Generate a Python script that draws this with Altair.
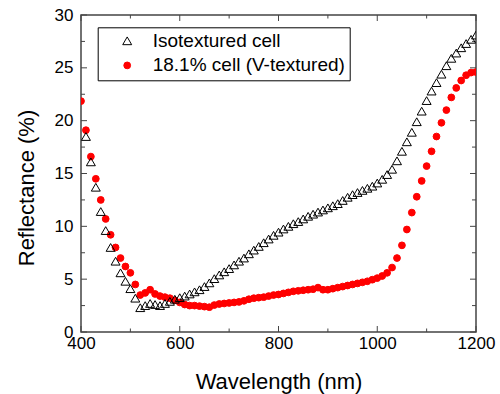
import altair as alt
import pandas as pd

FONT = "Liberation Sans"
AX = "#444444"

series_names = ["Isotextured cell", "18.1% cell (V-textured)"]

# 18.1% cell (V-textured): 400..1200 nm, every 10 nm
v_start = 400
v_textured = [
    21.85, 19.1, 16.6, 14.5, 12.5, 10.7, 9.2, 8.0, 7.0, 6.2,
    5.6, 4.5, 3.5, 3.7, 4.0, 3.6, 3.4, 3.3, 3.2, 3.0,
    2.8, 2.6, 2.5, 2.5, 2.45, 2.4, 2.35, 2.55, 2.65, 2.7,
    2.75, 2.8, 2.85, 2.95, 3.1, 3.2, 3.25, 3.3, 3.4, 3.5,
    3.55, 3.65, 3.75, 3.85, 3.9, 3.95, 4.0, 4.05, 4.2, 4.0,
    4.0, 4.1, 4.2, 4.3, 4.4, 4.5, 4.6, 4.7, 4.8, 4.95,
    5.1, 5.3, 5.6, 6.1, 7.0, 8.2, 9.7, 11.3, 12.8, 14.3,
    15.7, 17.1, 18.5, 19.8, 21.0, 22.2, 23.1, 23.8, 24.3, 24.55,
    24.6,
]

# Isotextured cell: 410..1200 nm, every 10 nm
iso_start = 410
isotextured = [
    18.5, 16.1, 13.7, 11.4, 9.6, 8.0, 6.7, 5.6, 4.8, 4.1,
    3.2, 2.3, 2.5, 2.7, 2.6, 2.5, 2.7, 2.9, 3.1, 3.25,
    3.4, 3.6, 3.8, 4.0, 4.3, 4.65, 5.05, 5.4, 5.7, 6.0,
    6.35, 6.7, 7.0, 7.4, 7.75, 8.1, 8.45, 8.8, 9.15, 9.45,
    9.75, 10.0, 10.25, 10.45, 10.7, 10.95, 11.15, 11.35, 11.55, 11.75,
    11.95, 12.15, 12.45, 12.75, 13.0, 13.2, 13.4, 13.6, 13.8, 14.1,
    14.45, 14.9, 15.4, 16.2, 17.1, 18.0, 18.9, 19.9, 20.9, 21.9,
    22.8, 23.6, 24.4, 25.2, 25.9, 26.4, 26.9, 27.3, 27.7, 28.1,
]

x_major = [400, 600, 800, 1000, 1200]
x_minor = [500, 700, 900, 1100]
y_major = [0, 5, 10, 15, 20, 25, 30]
y_minor = [2.5, 7.5, 12.5, 17.5, 22.5, 27.5]

wl_v = [v_start + 10 * i for i in range(len(v_textured))]
wl_iso = [iso_start + 10 * i for i in range(len(isotextured))]

df = pd.DataFrame({
    "wl": wl_v + wl_iso,
    "R": v_textured + isotextured,
    "series": [series_names[1]] * len(v_textured) + [series_names[0]] * len(isotextured),
})

W, H = 395, 317
xs = alt.Scale(domain=[400, 1200], nice=False, zero=False)
ys = alt.Scale(domain=[0, 30], nice=False, zero=False)

xaxis = alt.Axis(
    values=x_major, format="d", title="Wavelength (nm)", ticks=False, tickSize=0, domain=False, grid=False,
    labelFont=FONT, labelFontSize=17, labelColor="black", labelPadding=3,
    labelFlush=False, labelOverlap=False,
    titleFont=FONT, titleFontSize=22, titleFontWeight="normal", titleColor="black",
    titleY=56, titleBaseline="alphabetic")
yaxis = alt.Axis(
    values=y_major, format="d", title="Reflectance (%)", ticks=False, tickSize=0, domain=False, grid=False,
    labelFont=FONT, labelFontSize=17, labelColor="black", labelPadding=8,
    labelFlush=False, labelOverlap=False, labelBaseline="middle",
    titleFont=FONT, titleFontSize=22, titleFontWeight="normal", titleColor="black",
    titleX=-48, titleY=172.5, titleBaseline="alphabetic", titleAlign="center")

leg = alt.Legend(
    title=None, orient="none", legendX=16.7, legendY=12.3,
    padding=4, strokeColor="black", fillColor="white",
    labelFontSize=19, labelFont=FONT, labelColor="black", labelLimit=0,
    symbolOffset=16, labelOffset=16, rowPadding=4.6,
    symbolStrokeWidth=1,
)

points = alt.Chart(df).mark_point(opacity=1, strokeWidth=1, clip=True).encode(
    x=alt.X("wl:Q", scale=xs, axis=xaxis),
    y=alt.Y("R:Q", scale=ys, axis=yaxis),
    shape=alt.Shape("series:N", scale=alt.Scale(domain=series_names, range=["triangle-up", "circle"]), legend=leg),
    stroke=alt.Stroke("series:N", scale=alt.Scale(domain=series_names, range=["black", "#ff0000"]), legend=leg),
    fill=alt.Fill("series:N", scale=alt.Scale(domain=series_names, range=["transparent", "#ff0000"]), legend=leg),
    size=alt.Size("series:N", scale=alt.Scale(domain=series_names, range=[80, 46]), legend=leg),
)

def xticks(vals, length, top):
    d = pd.DataFrame({"wl": vals})
    if top:
        yy, yy2 = alt.value(0), alt.value(length)
    else:
        yy, yy2 = alt.value(H), alt.value(H - length)
    return alt.Chart(d).mark_rule(color=AX, strokeWidth=1).encode(
        x=alt.X("wl:Q", scale=xs, axis=xaxis), y=yy, y2=yy2)

def yticks(vals, length, right):
    d = pd.DataFrame({"R": vals})
    if right:
        xx, xx2 = alt.value(W), alt.value(W - length)
    else:
        xx, xx2 = alt.value(0), alt.value(length)
    return alt.Chart(d).mark_rule(color=AX, strokeWidth=1).encode(
        y=alt.Y("R:Q", scale=ys, axis=yaxis), x=xx, x2=xx2)

tick_layers = [
    xticks(x_major, 6, False), xticks(x_minor, 3.5, False),
    xticks(x_major, 6, True), xticks(x_minor, 3.5, True),
    yticks(y_major, 6, False), yticks(y_minor, 4, False),
    yticks(y_major, 6, True), yticks(y_minor, 4, True),
]

chart = alt.layer(*tick_layers, points).properties(
    width=W, height=H,
    autosize=alt.AutoSizeParams(type="none"),
    padding={"left": 81, "top": 15, "right": 24, "bottom": 62},
    background="white",
).configure_view(stroke=AX, strokeWidth=1.5)

chart.save("out.html", embed_options={"renderer": "svg", "actions": False})
